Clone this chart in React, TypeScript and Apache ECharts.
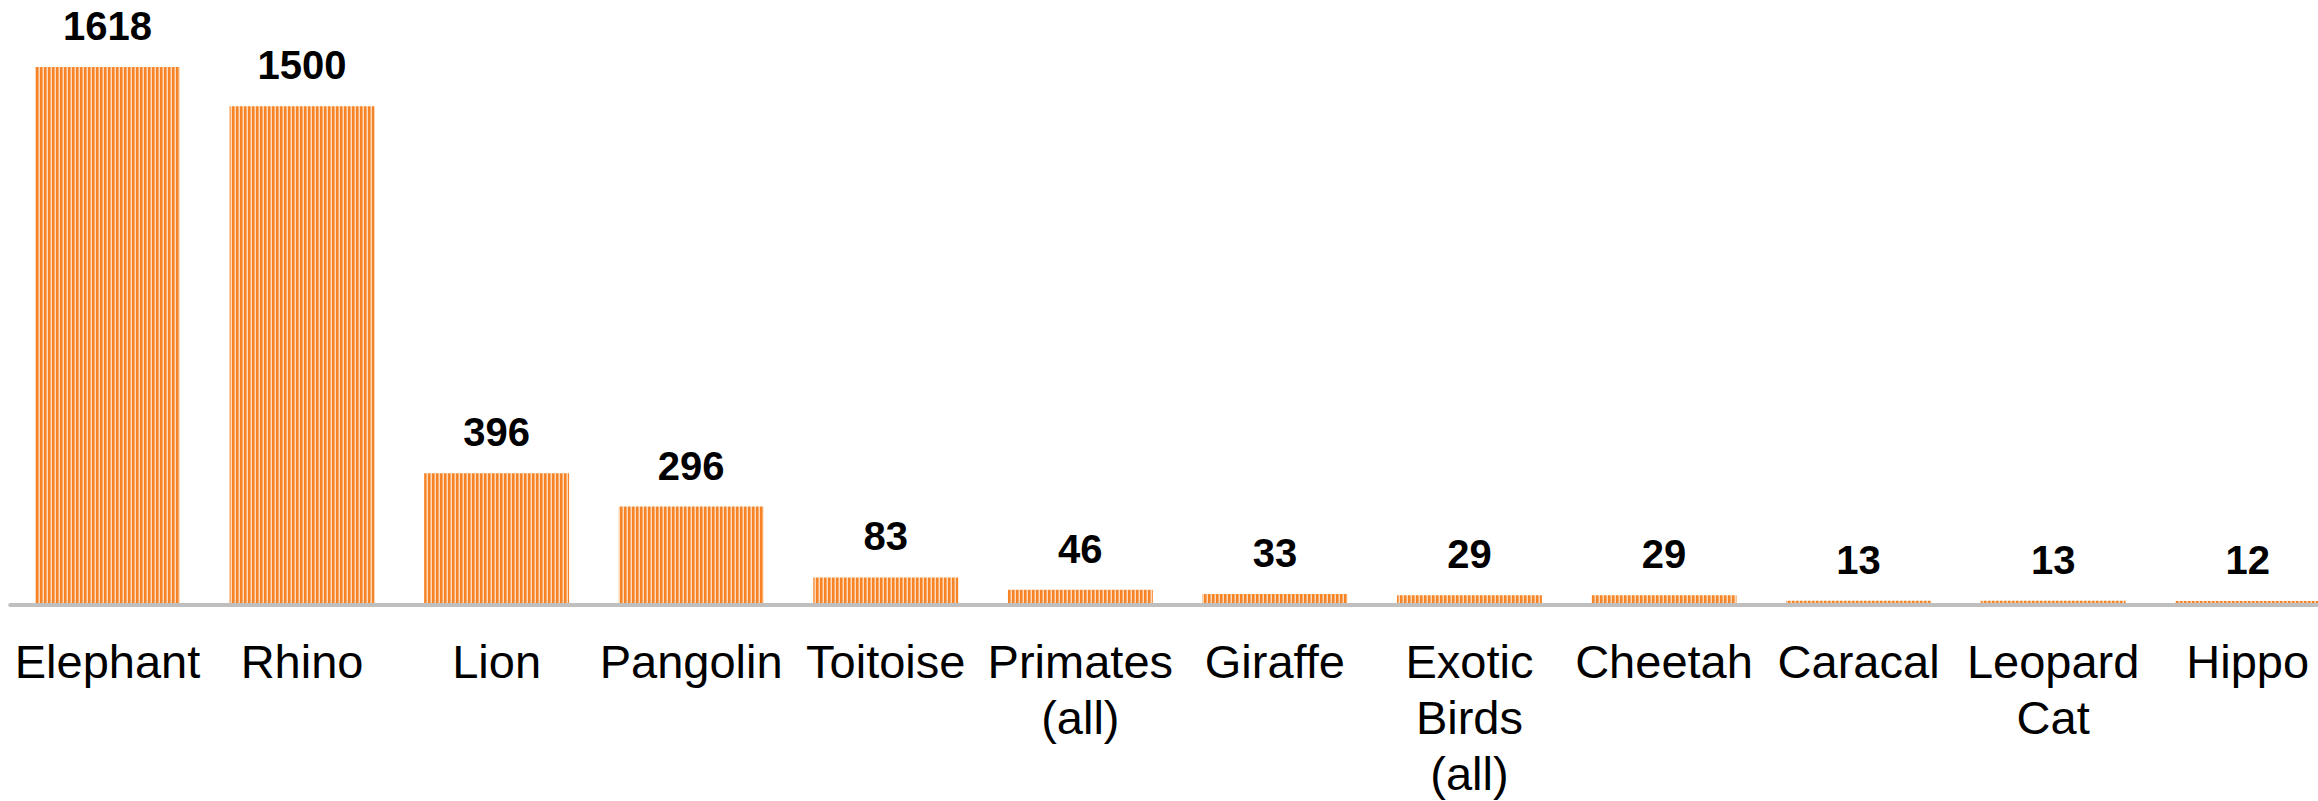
import React, { useEffect, useRef } from "react";
import * as echarts from "echarts";

const categories = [
  "Elephant",
  "Rhino",
  "Lion",
  "Pangolin",
  "Toitoise",
  "Primates\n(all)",
  "Giraffe",
  "Exotic\nBirds\n(all)",
  "Cheetah",
  "Caracal",
  "Leopard\nCat",
  "Hippo",
];

const counts = [1618, 1500, 396, 296, 83, 46, 33, 29, 29, 13, 13, 12];

// Vertical pin-stripe fill used by every bar
function makeStripePattern(): HTMLCanvasElement {
  const c = document.createElement("canvas");
  c.width = 4;
  c.height = 8;
  const ctx = c.getContext("2d")!;
  ctx.fillStyle = "#FCD9BA";
  ctx.fillRect(0, 0, 4, 8);
  ctx.fillStyle = "#F68426";
  ctx.fillRect(0, 0, 2.5, 8);
  return c;
}

export default function App() {
  const ref = useRef<HTMLDivElement>(null);

  useEffect(() => {
    if (!ref.current) return;
    const chart = echarts.init(ref.current, undefined, { renderer: "svg" });
    const stripe = makeStripePattern();

    chart.setOption({
      animation: false,
      backgroundColor: "#ffffff",
      grid: { left: 10.2, right: 0, top: 67, bottom: 193, containLabel: false },
      xAxis: {
        type: "category",
        data: categories,
        z: 5,
        axisLine: { show: true, lineStyle: { color: "#BFBFBF", width: 4 } },
        axisTick: { show: false },
        axisLabel: {
          interval: 0,
          margin: 28,
          color: "#000000",
          fontFamily: "Liberation Sans, Arial, sans-serif",
          fontSize: 47,
          lineHeight: 56,
          align: "center",
          verticalAlign: "top",
        },
      },
      yAxis: {
        type: "value",
        min: 0,
        max: "dataMax",
        show: false,
        splitLine: { show: false },
      },
      series: [
        {
          type: "bar",
          data: counts,
          barCategoryGap: "25.5%",
          itemStyle: {
            color: { image: stripe, repeat: "repeat" } as any,
          },
          label: {
            show: true,
            position: "top",
            distance: 21,
            color: "#000000",
            fontFamily: "Liberation Sans, Arial, sans-serif",
            fontWeight: "bold",
            fontSize: 40,
          },
        },
      ],
    });

    return () => {
      chart.dispose();
    };
  }, []);

  // The chart is a little wider than the page, so the last bar runs off the right edge
  return (
    <div
      ref={ref}
      style={{ position: "fixed", left: 0, top: 0, width: 2345, height: 801 }}
    />
  );
}
